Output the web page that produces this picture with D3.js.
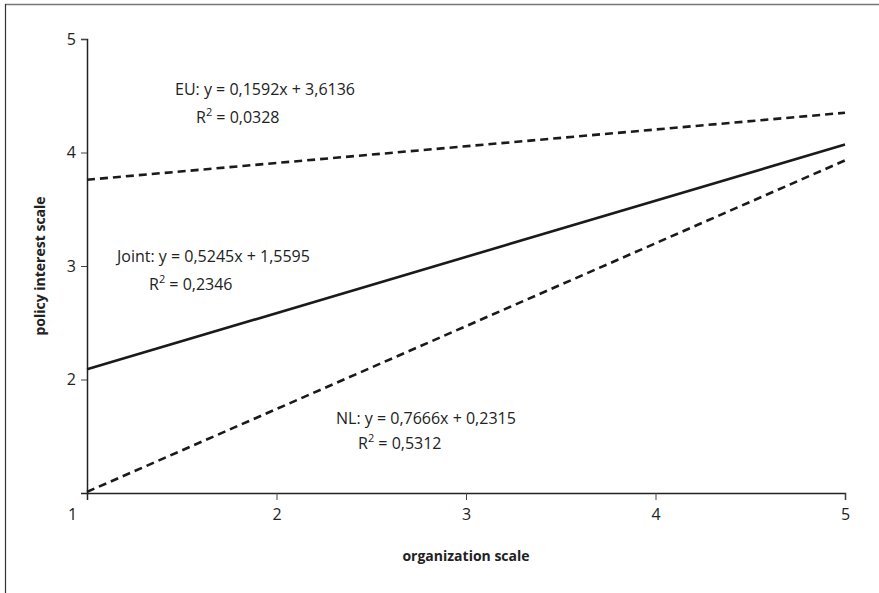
<!DOCTYPE html>
<html>
<head>
<meta charset="utf-8">
<script src="https://cdn.jsdelivr.net/npm/d3@7"></script>
<style>
  html, body { margin: 0; padding: 0; background: #fff; }
  svg { display: block; }
  text { font-family: "Open Sans", "Noto Sans", sans-serif; fill: #222; }
</style>
</head>
<body>
<svg id="chart" width="879" height="593"></svg>
<script>
// Axis ticks
const xTicks = [1, 2, 3, 4, 5];
const yTicks = [2, 3, 4, 5];

// Regression lines: endpoints at x = 1 and x = 5
const xEnds = [1, 5];
const euValues = [3.76, 4.35];
const jointValues = [2.09, 4.07];
const nlValues = [1.01, 3.93];

// Equation labels
const seriesNames = ["EU", "Joint", "NL"];
const equations = ["EU: y = 0,1592x + 3,6136", "Joint: y = 0,5245x + 1,5595", "NL: y = 0,7666x + 0,2315"];
const rSquared = ["0,0328", "0,2346", "0,5312"];

const svg = d3.select("#chart");
const margin = { left: 87, right: 34, top: 39, bottom: 100 };
const W = 879, H = 593;

const x = d3.scaleLinear().domain([1, 5]).range([margin.left, W - margin.right]);
const y = d3.scaleLinear().domain([1, 5]).range([H - margin.bottom, margin.top]);

// frame lines along the top and left edge
svg.append("line").attr("x1", 5).attr("x2", W).attr("y1", 4.5).attr("y2", 4.5)
  .attr("stroke", "#777").attr("stroke-width", 1.5);
svg.append("line").attr("x1", 5.5).attr("x2", 5.5).attr("y1", 4).attr("y2", H)
  .attr("stroke", "#333").attr("stroke-width", 1.2);

// x axis
const xAxis = svg.append("g")
  .attr("transform", `translate(0,${y(1)})`)
  .call(d3.axisBottom(x).tickValues(xTicks).tickSize(7).tickPadding(9).tickFormat(d3.format("d")));
xAxis.select(".domain").attr("stroke", "#222").attr("stroke-width", 1.5);
xAxis.selectAll(".tick line").attr("stroke", "#444").attr("stroke-width", 1);
xAxis.selectAll(".tick text").style("font-size", "16px").attr("fill", "#222")
  .attr("dx", d => d === 1 ? -15 : 0);
xAxis.selectAll(".tick").filter(d => d === 1).select("line").remove();

// y axis
const yAxis = svg.append("g")
  .attr("transform", `translate(${x(1)},0)`)
  .call(d3.axisLeft(y).tickValues(yTicks).tickSize(6).tickPadding(5).tickFormat(d3.format("d")));
yAxis.select(".domain").attr("stroke", "#222").attr("stroke-width", 1.5);
yAxis.selectAll(".tick line").attr("stroke", "#444").attr("stroke-width", 1);
yAxis.selectAll(".tick text").style("font-size", "16px").attr("fill", "#222");

// axis titles
svg.append("text").attr("x", (x(1) + x(5)) / 2).attr("y", 561)
  .attr("text-anchor", "middle").style("font-size", "14px").style("font-weight", "bold")
  .text("organization scale");
svg.append("text").attr("transform", `translate(45,${(y(1) + y(5)) / 2}) rotate(-90)`)
  .attr("text-anchor", "middle").style("font-size", "14px").style("font-weight", "bold")
  .text("policy interest scale");

// regression lines
const line = d3.line().x(d => x(d[0])).y(d => y(d[1]));
const series = [
  { name: seriesNames[0], values: euValues, dash: "8,5" },
  { name: seriesNames[1], values: jointValues, dash: null },
  { name: seriesNames[2], values: nlValues, dash: "8,5" }
];
series.forEach(s => {
  svg.append("path")
    .datum(xEnds.map((xv, i) => [xv, s.values[i]]))
    .attr("d", line)
    .attr("fill", "none")
    .attr("stroke", "#1a1a1a")
    .attr("stroke-width", 2.6)
    .attr("stroke-dasharray", s.dash);
});

// equation annotations
const labelPos = [
  { x: 175, y: 95, rx: 196, ry: 123 },
  { x: 117, y: 262, rx: 149, ry: 290 },
  { x: 336, y: 424, rx: 358, ry: 449 }
];
equations.forEach((eq, i) => {
  const p = labelPos[i];
  svg.append("text").attr("x", p.x).attr("y", p.y).style("font-size", "16px").text(eq);
  const r = svg.append("text").attr("x", p.rx).attr("y", p.ry).style("font-size", "16px");
  r.append("tspan").text("R");
  r.append("tspan").attr("dy", -7).style("font-size", "11px").text("2");
  r.append("tspan").attr("dy", 7).text(" = " + rSquared[i]);
});
</script>
</body>
</html>
